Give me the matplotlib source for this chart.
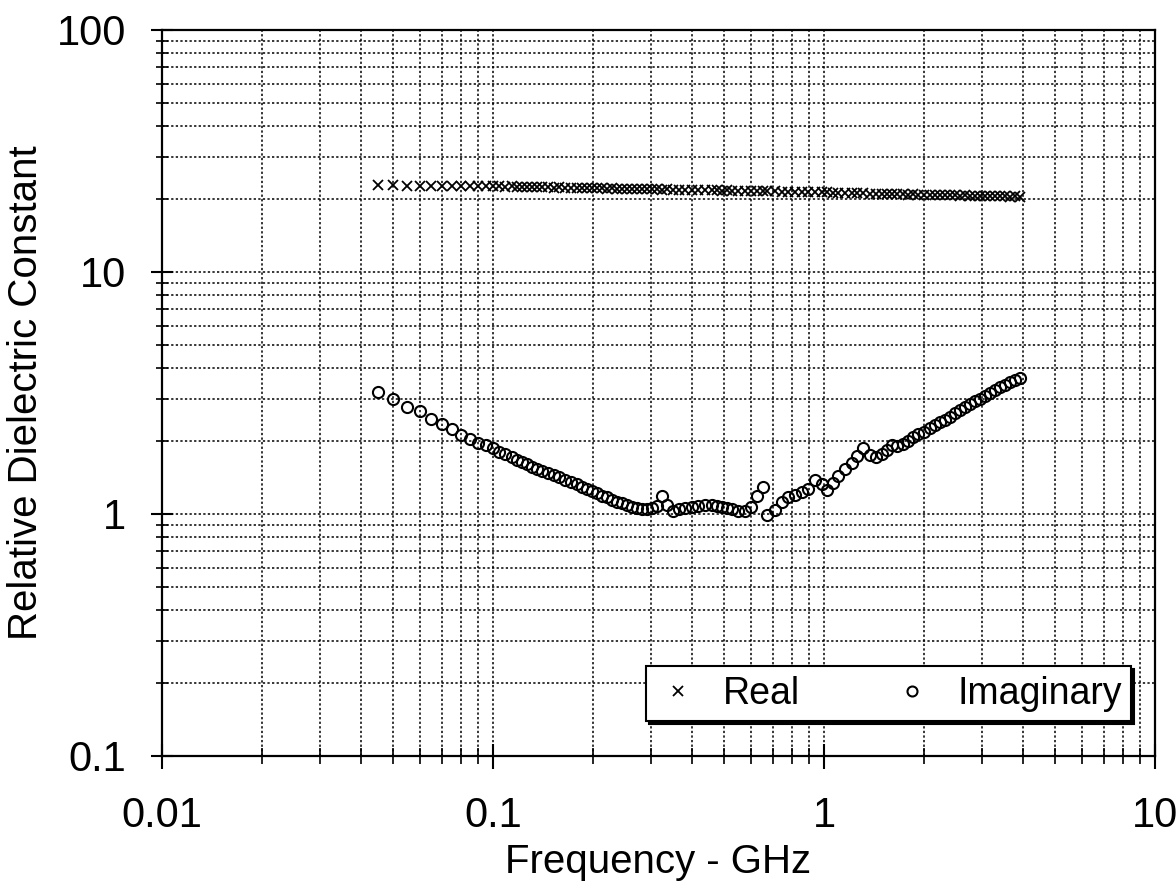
import matplotlib
matplotlib.use("Agg")
import matplotlib.pyplot as plt

plt.rcParams['font.family'] = ['Liberation Sans', 'DejaVu Sans']

# frequencies in GHz
freq = [0.045, 0.050, 0.055, 0.060, 0.065, 0.070, 0.075, 0.080, 0.085, 0.090, 0.095, 0.100,
        0.104, 0.109, 0.114, 0.118, 0.122, 0.127, 0.131, 0.136, 0.141, 0.147, 0.153, 0.158,
        0.165, 0.172, 0.179, 0.186, 0.192, 0.199,
        0.206, 0.213, 0.221, 0.229, 0.237, 0.245, 0.254, 0.263, 0.272, 0.282, 0.292, 0.302,
        0.313, 0.324, 0.335, 0.350, 0.365, 0.380, 0.399, 0.416, 0.437, 0.459, 0.475, 0.492,
        0.509, 0.527, 0.550, 0.577,
        0.602, 0.628, 0.654, 0.673, 0.711, 0.747, 0.779, 0.817, 0.858, 0.895, 0.939, 0.986, 1.021,
        1.065, 1.102, 1.157, 1.215, 1.258, 1.312, 1.377, 1.436, 1.497, 1.550, 1.605, 1.662,
        1.733, 1.794, 1.858, 1.923,
        2.005, 2.090, 2.164, 2.241, 2.321, 2.403, 2.488, 2.576, 2.667, 2.762, 2.859, 2.960,
        3.065, 3.174, 3.286, 3.402, 3.523, 3.647, 3.776, 3.910]

real = [22.8, 22.8, 22.7, 22.7, 22.7, 22.7, 22.6, 22.7, 22.6, 22.6, 22.6, 22.6,
        22.6, 22.5, 22.6, 22.5, 22.5, 22.5, 22.4, 22.5, 22.4, 22.4, 22.3, 22.4,
        22.3, 22.3, 22.3, 22.2, 22.3, 22.2,
        22.2, 22.2, 22.1, 22.2, 22.1, 22.1, 22.1, 22.0, 22.1, 22.0, 22.0, 22.0,
        22.0, 21.9, 22.0, 21.9, 21.9, 21.9, 21.8, 21.9, 21.8, 21.8, 21.8, 21.7,
        21.8, 21.7, 21.7, 21.7,
        21.6, 21.7, 21.6, 21.6, 21.6, 21.5, 21.5, 21.5, 21.4, 21.5, 21.4, 21.4, 21.4,
        21.3, 21.3, 21.3, 21.2, 21.2, 21.2, 21.1, 21.1, 21.1, 21.0, 21.1, 21.0,
        21.0, 20.9, 21.0, 20.9,
        20.9, 20.9, 20.8, 20.9, 20.8, 20.8, 20.8, 20.7, 20.8, 20.7, 20.7, 20.7,
        20.6, 20.7, 20.6, 20.6, 20.6, 20.5, 20.6, 20.5]

imag = [3.19, 2.99, 2.77, 2.67, 2.47, 2.35, 2.25, 2.12, 2.04, 1.97, 1.93, 1.87,
        1.80, 1.77, 1.72, 1.67, 1.64, 1.61, 1.56, 1.54, 1.51, 1.48, 1.45, 1.42,
        1.38, 1.36, 1.33, 1.29, 1.27, 1.25,
        1.22, 1.19, 1.17, 1.14, 1.12, 1.11, 1.09, 1.07, 1.06, 1.05, 1.05, 1.06,
        1.08, 1.19, 1.09, 1.03, 1.05, 1.06, 1.07, 1.08, 1.09, 1.09, 1.08, 1.07,
        1.06, 1.05, 1.03, 1.03,
        1.07, 1.19, 1.29, 0.99, 1.04, 1.12, 1.17, 1.20, 1.23, 1.27, 1.38, 1.33, 1.26,
        1.34, 1.44, 1.54, 1.62, 1.74, 1.87, 1.75, 1.72, 1.77, 1.84, 1.93, 1.91,
        1.95, 2.00, 2.08, 2.14,
        2.18, 2.27, 2.33, 2.40, 2.45, 2.52, 2.62, 2.69, 2.77, 2.85, 2.93, 2.99,
        3.07, 3.16, 3.25, 3.35, 3.41, 3.51, 3.58, 3.65]

fig = plt.figure(figsize=(11.76, 8.90), dpi=100)
ax = fig.add_axes([0.1378, 0.1506, 0.8443, 0.8157])

ax.plot(freq, real, 'x', color='black', markersize=7.5, markeredgewidth=1.3, label="Real")
ax.plot(freq, imag, 'o', color='black', markerfacecolor='none', markersize=8,
        markeredgewidth=1.5, label="Imaginary")

ax.set_xscale('log')
ax.set_yscale('log')
ax.set_xlim(0.01, 10)
ax.set_ylim(0.1, 100)
ax.set_xticks([0.01, 0.1, 1, 10])
ax.set_xticklabels(['0.01', '0.1', '1', '10'])
ax.set_yticks([0.1, 1, 10, 100])
ax.set_yticklabels(['0.1', '1', '10', '100'])

ax.grid(True, which='both', color='black', linestyle=(0, (1.5, 1.5)), linewidth=1.1)
ax.tick_params(axis='x', which='major', direction='inout', length=18, width=1.5,
               labelsize=30, pad=20)
ax.tick_params(axis='x', which='minor', direction='inout', length=12, width=1.2)
ax.tick_params(axis='y', which='major', direction='inout', length=16, width=1.5,
               labelsize=30, pad=18)
ax.tick_params(axis='y', which='minor', direction='inout', length=8, width=1.2)
for s in ax.spines.values():
    s.set_linewidth(1.6)

ax.set_xlabel("Frequency - GHz", fontsize=29, labelpad=5)
ax.set_ylabel("Relative Dielectric Constant", fontsize=29, labelpad=8)

leg = ax.legend(ncol=2, loc='lower right', bbox_to_anchor=(0.976, 0.048),
                borderaxespad=0, fontsize=27, fancybox=False, framealpha=1,
                edgecolor='black', markerscale=0.9, handletextpad=0.6,
                columnspacing=2.4, borderpad=0.25, handlelength=1.2,
                shadow={'color': 'black', 'alpha': 1.0})
leg.get_frame().set_linewidth(1.5)

fig.savefig("out.png", dpi=100)
